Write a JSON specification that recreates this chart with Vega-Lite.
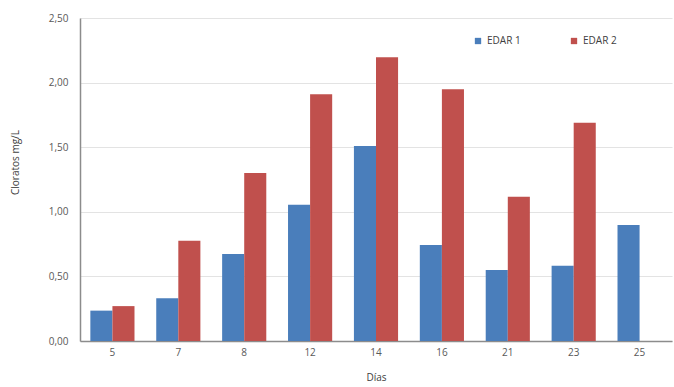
{
  "$schema": "https://vega.github.io/schema/vega-lite/v6.json",
  "width": 592,
  "height": 323,
  "autosize": {"type": "none"},
  "padding": {"left": 80, "top": 18, "right": 2, "bottom": 46},
  "background": "white",
  "config": {
    "locale": {"number": {"decimal": ",", "thousands": ".", "grouping": [3], "currency": ["", " €"]}},
    "font": "Open Sans",
    "view": {"stroke": null},
    "axis": {"labelColor": "#595959", "titleColor": "#404040", "labelFontSize": 10, "titleFontSize": 10, "titleFontWeight": "normal"}
  },
  "data": {
    "values": [
      {"dia": "5", "serie": "EDAR 1", "valor": 0.235},
      {"dia": "5", "serie": "EDAR 2", "valor": 0.27},
      {"dia": "7", "serie": "EDAR 1", "valor": 0.33},
      {"dia": "7", "serie": "EDAR 2", "valor": 0.776},
      {"dia": "8", "serie": "EDAR 1", "valor": 0.673},
      {"dia": "8", "serie": "EDAR 2", "valor": 1.30},
      {"dia": "12", "serie": "EDAR 1", "valor": 1.055},
      {"dia": "12", "serie": "EDAR 2", "valor": 1.91},
      {"dia": "14", "serie": "EDAR 1", "valor": 1.51},
      {"dia": "14", "serie": "EDAR 2", "valor": 2.196},
      {"dia": "16", "serie": "EDAR 1", "valor": 0.743},
      {"dia": "16", "serie": "EDAR 2", "valor": 1.948},
      {"dia": "21", "serie": "EDAR 1", "valor": 0.55},
      {"dia": "21", "serie": "EDAR 2", "valor": 1.117},
      {"dia": "23", "serie": "EDAR 1", "valor": 0.583},
      {"dia": "23", "serie": "EDAR 2", "valor": 1.69},
      {"dia": "25", "serie": "EDAR 1", "valor": 0.898}
    ]
  },
  "mark": {"type": "bar"},
  "encoding": {
    "x": {
      "field": "dia",
      "type": "nominal",
      "sort": ["5", "7", "8", "12", "14", "16", "21", "23", "25"],
      "scale": {"paddingInner": 0.33, "paddingOuter": 0.157},
      "axis": {
        "title": "Días",
        "labelAngle": 0,
        "ticks": false,
        "labelPadding": 6,
        "titlePadding": 15,
        "domainColor": "#8c8c8c",
        "domainWidth": 1.5
      }
    },
    "xOffset": {"field": "serie", "type": "nominal", "scale": {"domain": ["EDAR 1", "EDAR 2"], "paddingInner": 0, "paddingOuter": 0}},
    "y": {
      "field": "valor",
      "type": "quantitative",
      "scale": {"domain": [0, 2.5], "nice": false},
      "axis": {
        "title": "Cloratos mg/L",
        "values": [0, 0.5, 1, 1.5, 2, 2.5],
        "format": ",.2f",
        "ticks": false,
        "labelPadding": 12,
        "titleX": -60,
        "titleY": 144,
        "domain": true,
        "domainColor": "#8c8c8c",
        "domainWidth": 1.5,
        "gridColor": "#e3e3e3",
        "gridWidth": 1
      }
    },
    "color": {
      "field": "serie",
      "type": "nominal",
      "scale": {"domain": ["EDAR 1", "EDAR 2"], "range": ["#4a7ebb", "#c0504d"]},
      "legend": {
        "title": null,
        "orient": "none",
        "direction": "horizontal",
        "legendX": 393,
        "legendY": 18,
        "symbolType": "square",
        "symbolSize": 40,
        "labelFontSize": 10,
        "labelColor": "#404040",
        "columnPadding": 48,
        "symbolStrokeWidth": 0
      }
    }
  }
}
